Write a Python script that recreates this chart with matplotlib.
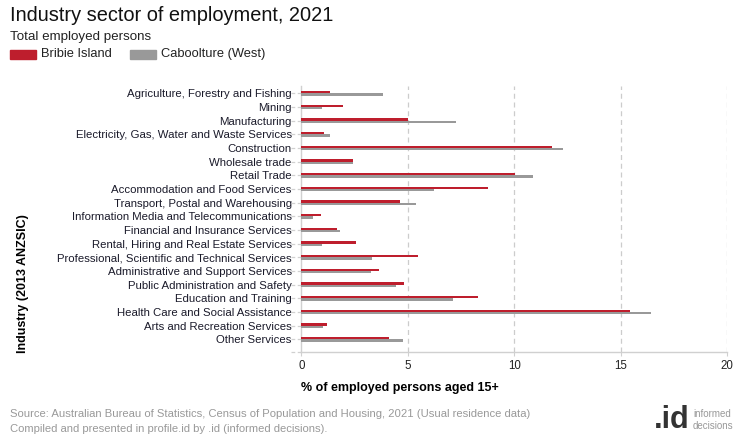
import matplotlib
matplotlib.use('Agg')
import numpy as np
from matplotlib import pyplot as plt
from matplotlib.patches import Rectangle

plt.rcParams['font.family'] = ['Liberation Sans', 'DejaVu Sans']

# Data (% of employed persons aged 15+)
industries = ['Agriculture, Forestry and Fishing', 'Mining', 'Manufacturing',
              'Electricity, Gas, Water and Waste Services', 'Construction',
              'Wholesale trade', 'Retail Trade', 'Accommodation and Food Services',
              'Transport, Postal and Warehousing', 'Information Media and Telecommunications',
              'Financial and Insurance Services', 'Rental, Hiring and Real Estate Services',
              'Professional, Scientific and Technical Services',
              'Administrative and Support Services', 'Public Administration and Safety',
              'Education and Training', 'Health Care and Social Assistance',
              'Arts and Recreation Services', 'Other Services']
bribie = [1.33, 1.94, 4.99, 1.05, 11.76, 2.41, 10.03, 8.79, 4.62, 0.91,
          1.66, 2.55, 5.46, 3.63, 4.80, 8.28, 15.45, 1.19, 4.10]
caboolture = [3.82, 0.95, 7.25, 1.33, 12.28, 2.41, 10.87, 6.21, 5.37, 0.53,
              1.80, 0.95, 3.30, 3.26, 4.43, 7.10, 16.43, 1.00, 4.76]
series_names = ['Bribie Island', 'Caboolture (West)']
xticks = [0, 5, 10, 15, 20]

red = '#BE1E2D'
grey = '#999999'
axis_grey = '#D0D0D0'

fig = plt.figure(figsize=(7.4, 4.4), dpi=100)
ax = fig.add_axes([0.4074, 0.2, 0.575, 0.6045])

y = np.arange(len(industries))
h = 0.17
ax.barh(y - h / 2, bribie, height=h, color=red, zorder=3)
ax.barh(y + h / 2, caboolture, height=h, color=grey, zorder=3)

ax.set_xlim(0, 20)
ax.set_ylim(18.93, -0.53)
ax.set_xticks(xticks)
ax.set_xticklabels([str(t) for t in xticks], fontsize=8.3, color='#222222')
ax.set_yticks(y)
ax.set_yticklabels(industries, fontsize=8.2, color='#1a1a2a')
ax.tick_params(axis='y', length=0, pad=7)
ax.tick_params(axis='x', length=3, color=axis_grey, pad=3)

for x in xticks[1:]:
    ax.axvline(x, color='#CCCCCC', linestyle=(0, (4, 3)), linewidth=0.9, zorder=1)

for s in ['top', 'right']:
    ax.spines[s].set_visible(False)
for s in ['left', 'bottom']:
    ax.spines[s].set_color(axis_grey)
    ax.spines[s].set_linewidth(1)

# dashed tick marks on the category axis
trans = ax.get_yaxis_transform()
for yi in list(y) + [18.93]:
    ax.plot([-0.025, -0.002], [yi, yi], transform=trans, color=axis_grey,
            linestyle=(0, (3, 2)), linewidth=0.9, clip_on=False)

ax.set_xlabel('% of employed persons aged 15+', fontsize=9, fontweight='bold',
              loc='left')
ax.xaxis.set_label_coords(0.0, -0.113)
fig.text(0.031, 0.355, 'Industry (2013 ANZSIC)', rotation=90, fontsize=9,
         fontweight='bold', ha='center', va='center')

# titles
fig.text(0.0135, 0.965, 'Industry sector of employment, 2021', fontsize=14.4,
         va='center', color='#111111')
fig.text(0.0135, 0.917, 'Total employed persons', fontsize=9.6, va='center',
         color='#222222')

# legend
fig.patches.append(Rectangle((10 / 740, 1 - 59 / 440), 26 / 740, 9 / 440,
                             transform=fig.transFigure, color=red))
fig.text(41 / 740, 1 - 54 / 440, series_names[0], fontsize=9.3, va='center',
         color='#222222')
fig.patches.append(Rectangle((130 / 740, 1 - 59 / 440), 26 / 740, 9 / 440,
                             transform=fig.transFigure, color=grey))
fig.text(161 / 740, 1 - 54 / 440, series_names[1], fontsize=9.3, va='center',
         color='#222222')

# footer
fig.text(10 / 740, 1 - 414 / 440,
         'Source: Australian Bureau of Statistics, Census of Population and Housing, 2021 (Usual residence data)',
         fontsize=8.15, color='#999999', va='center')
fig.text(10 / 740, 1 - 429 / 440,
         'Compiled and presented in profile.id by .id (informed decisions).',
         fontsize=8.15, color='#999999', va='center')
fig.text(690 / 740, 1 - 420 / 440, '.id', fontsize=22, fontweight='bold',
         color='#333333', ha='right', va='center')
fig.text(693 / 740, 1 - 414 / 440, 'informed', fontsize=7, color='#999999', va='center')
fig.text(693 / 740, 1 - 426 / 440, 'decisions', fontsize=7, color='#999999', va='center')

fig.savefig('out.png', dpi=100)
